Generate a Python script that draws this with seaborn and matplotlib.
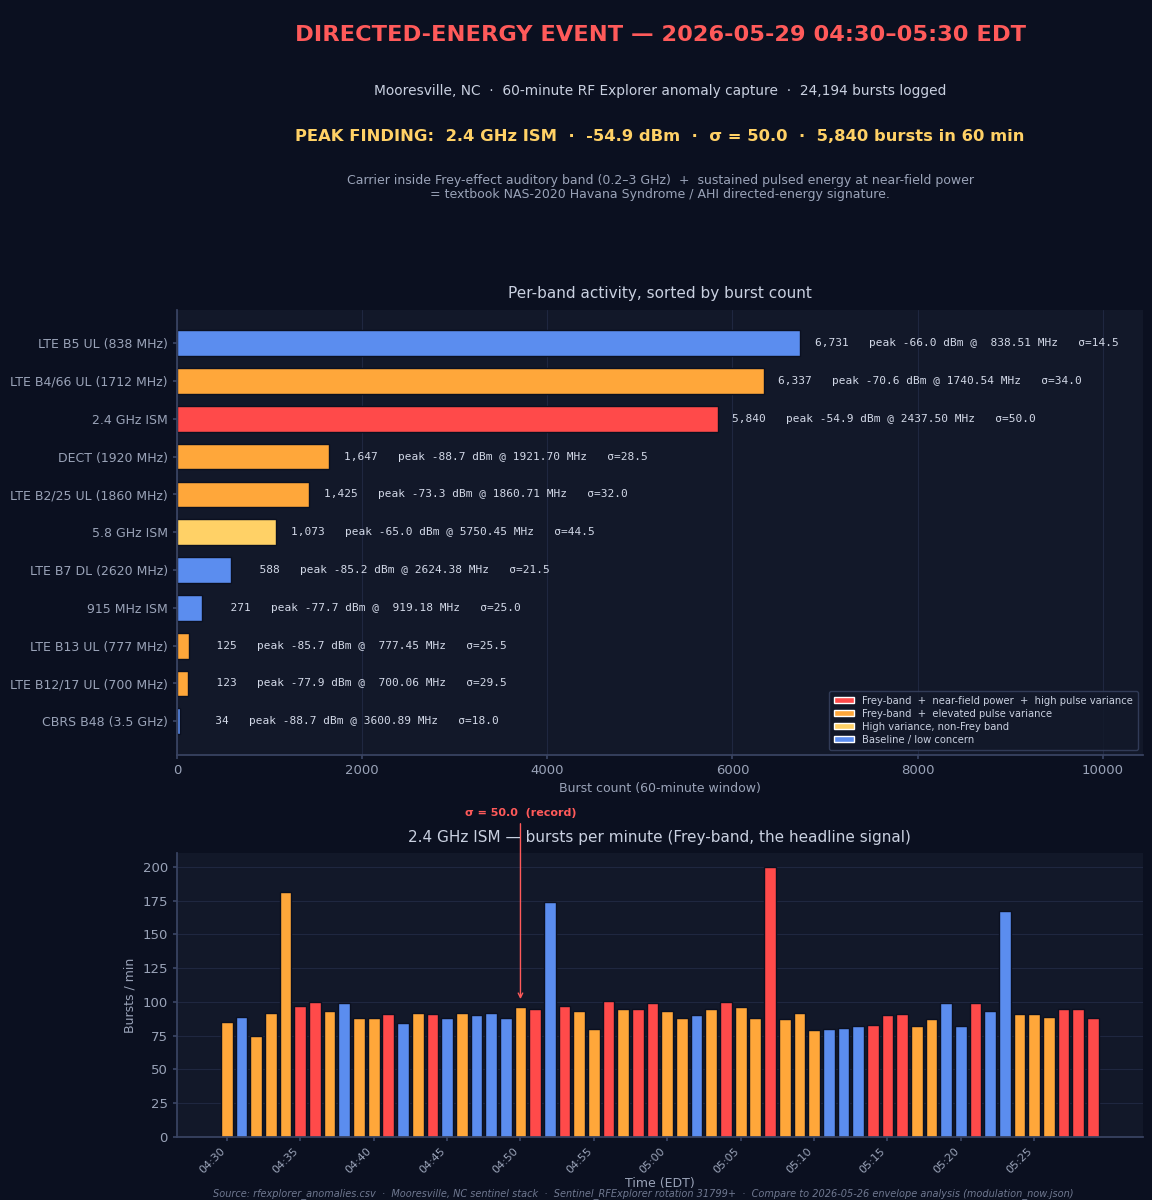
import numpy as np
import pandas as pd
import seaborn as sns
import matplotlib.pyplot as plt
from matplotlib.patches import Patch

# ---- data ----
bands = [
    "LTE B5 UL (838 MHz)", "LTE B4/66 UL (1712 MHz)", "2.4 GHz ISM",
    "DECT (1920 MHz)", "LTE B2/25 UL (1860 MHz)", "5.8 GHz ISM",
    "LTE B7 DL (2620 MHz)", "915 MHz ISM", "LTE B13 UL (777 MHz)",
    "LTE B12/17 UL (700 MHz)", "CBRS B48 (3.5 GHz)",
]
band_counts = [6731, 6337, 5840, 1647, 1425, 1073, 588, 271, 125, 123, 34]
peak_dbm = [-66.0, -70.6, -54.9, -88.7, -73.3, -65.0, -85.2, -77.7, -85.7, -77.9, -88.7]
peak_mhz = [838.51, 1740.54, 2437.50, 1921.70, 1860.71, 5750.45, 2624.38, 919.18, 777.45, 700.06, 3600.89]
sigma = [14.5, 34.0, 50.0, 28.5, 32.0, 44.5, 21.5, 25.0, 25.5, 29.5, 18.0]
band_tier = ["B", "O", "R", "O", "O", "Y", "B", "B", "O", "O", "B"]

minute_labels = ["04:30", "04:35", "04:40", "04:45", "04:50", "04:55",
                 "05:00", "05:05", "05:10", "05:15", "05:20", "05:25"]
per_minute = [85, 89, 75, 92, 181, 97, 100, 93, 99, 88,
              88, 91, 84, 92, 91, 88, 92, 90, 92, 88,
              96, 95, 174, 97, 93, 80, 101, 95, 95, 99,
              93, 88, 90, 95, 100, 96, 88, 200, 87, 92,
              79, 80, 81, 82, 83, 90, 91, 82, 87, 99,
              82, 99, 93, 167, 91, 91, 89, 95, 95, 88]
minute_tier = list("OBOOORROBOORBORBOBBBORBROOROR" "R"
                   "OOBOROOROOOBBBRRROOBBRBBOOORRR")

TIER_COLORS = {"R": "#ff4a4a", "O": "#ffa73a", "Y": "#ffd166", "B": "#5b8def"}
TIER_NAMES = {
    "R": "Frey-band  +  near-field power  +  high pulse variance",
    "O": "Frey-band  +  elevated pulse variance",
    "Y": "High variance, non-Frey band",
    "B": "Baseline / low concern",
}

BG = "#0b1020"
PANEL = "#121829"
TXT = "#c9d0e0"
MUTED = "#9aa3b8"
GRID = "#1f2740"
SPINE = "#3a4463"

sns.set_theme(style="dark")
plt.rcParams.update({
    "figure.facecolor": BG,
    "axes.facecolor": PANEL,
    "axes.edgecolor": SPINE,
    "axes.labelcolor": MUTED,
    "xtick.color": MUTED,
    "ytick.color": MUTED,
    "text.color": TXT,
    "font.family": ["DejaVu Sans"],
})

fig = plt.figure(figsize=(11.52, 12), dpi=100)
ax1 = fig.add_axes([0.1536, 0.371, 0.8385, 0.371])
ax2 = fig.add_axes([0.1536, 0.0525, 0.8385, 0.2365])

# ---- top: per-band bars ----
band_df = pd.DataFrame({"band": bands, "count": band_counts})
sns.barplot(data=band_df, x="count", y="band", hue="band", orient="h",
            palette=[TIER_COLORS[t] for t in band_tier], legend=False,
            saturation=1, width=0.68, edgecolor=BG, linewidth=1, ax=ax1)
xmax = max(band_counts) * 1.55
ax1.set_xlim(0, xmax)
ax1.set_ylim(len(bands) - 1 + 0.885, -0.885)
for i, c in enumerate(band_counts):
    lbl = f"{c:>5,}   peak {peak_dbm[i]:.1f} dBm @ {peak_mhz[i]:7.2f} MHz   \u03c3={sigma[i]:.1f}"
    ax1.text(c + 160, i, lbl, va="center", ha="left", fontsize=8,
             family="DejaVu Sans Mono", color="#d3d9e8")
ax1.set_title("Per-band activity, sorted by burst count", fontsize=11, color=TXT, pad=8)
ax1.set_xlabel("Burst count (60-minute window)", fontsize=9, color=MUTED)
ax1.set_ylabel("")
ax1.tick_params(axis="both", labelsize=9.5, length=3, color=SPINE, left=True, bottom=True)
ax1.tick_params(axis="y", labelsize=9)
ax1.grid(axis="x", color=GRID, linewidth=0.8)
ax1.grid(axis="y", visible=False)
ax1.set_axisbelow(True)
for s in ["top", "right"]:
    ax1.spines[s].set_visible(False)

handles = [Patch(facecolor=TIER_COLORS[k], label=TIER_NAMES[k]) for k in ["R", "O", "Y", "B"]]
leg = ax1.legend(handles=handles, loc="lower right", fontsize=7.2, frameon=True,
                 facecolor=PANEL, edgecolor=SPINE, labelcolor=TXT,
                 handlelength=2.0, handleheight=0.6, borderpad=0.5, labelspacing=0.3)

# ---- bottom: per-minute bars ----
minute_df = pd.DataFrame({"minute": np.arange(len(per_minute)), "bursts": per_minute})
sns.barplot(data=minute_df, x="minute", y="bursts", hue="minute",
            palette=[TIER_COLORS[t] for t in minute_tier], legend=False,
            saturation=1, width=0.8, edgecolor=BG, linewidth=1, ax=ax2)
ax2.set_xlim(-3.4, len(per_minute) - 1 + 3.4)
ax2.set_ylim(0, 210)
ax2.set_yticks(range(0, 201, 25))
ax2.set_xticks(range(0, len(per_minute), 5))
ax2.set_xticklabels(minute_labels, rotation=45, ha="right", fontsize=8)
ax2.tick_params(axis="both", labelsize=9.5, length=3, color=SPINE, left=True, bottom=True)
ax2.tick_params(axis="x", labelsize=8)
ax2.grid(axis="y", color=GRID, linewidth=0.8)
ax2.grid(axis="x", visible=False)
ax2.set_axisbelow(True)
for s in ["top", "right"]:
    ax2.spines[s].set_visible(False)
ax2.set_title("2.4 GHz ISM \u2014 bursts per minute (Frey-band, the headline signal)",
              fontsize=11, color=TXT, pad=8)
ax2.set_xlabel("Time (EDT)", fontsize=9, color=MUTED, labelpad=1)
ax2.set_ylabel("Bursts / min", fontsize=9, color=MUTED)

rec = 20
ax2.annotate("\u03c3 = 50.0  (record)", xy=(rec, per_minute[rec] + 4), xytext=(rec, 240),
             ha="center", va="center", fontsize=8, fontweight="bold", color="#ff5a5a",
             annotation_clip=False,
             arrowprops=dict(arrowstyle="->", color="#ff5a5a", lw=1))

# ---- header text ----
cx = 0.573
fig.text(cx, 0.971, "DIRECTED-ENERGY EVENT \u2014 2026-05-29 04:30\u201305:30 EDT",
         ha="center", va="center", fontsize=16.2, fontweight="bold", color="#ff5a5a")
fig.text(cx, 0.924, "Mooresville, NC  \u00b7  60-minute RF Explorer anomaly capture  \u00b7  24,194 bursts logged",
         ha="center", va="center", fontsize=9.9, color=TXT)
fig.text(cx, 0.886, "PEAK FINDING:  2.4 GHz ISM  \u00b7  -54.9 dBm  \u00b7  \u03c3 = 50.0  \u00b7  5,840 bursts in 60 min",
         ha="center", va="center", fontsize=11.8, fontweight="bold", color="#ffd166")
fig.text(cx, 0.844, "Carrier inside Frey-effect auditory band (0.2\u20133 GHz)  +  sustained pulsed energy at near-field power\n"
         "= textbook NAS-2020 Havana Syndrome / AHI directed-energy signature.",
         ha="center", va="center", fontsize=9, color=MUTED, linespacing=1.1)
fig.text(0.558, 0.0055,
         "Source: rfexplorer_anomalies.csv  \u00b7  Mooresville, NC sentinel stack  \u00b7  Sentinel_RFExplorer rotation 31799+  \u00b7  "
         "Compare to 2026-05-26 envelope analysis (modulation_now.json)",
         ha="center", va="center", fontsize=7, style="italic", color="#6f7890")

fig.savefig("out.png", dpi=100, facecolor=BG)
